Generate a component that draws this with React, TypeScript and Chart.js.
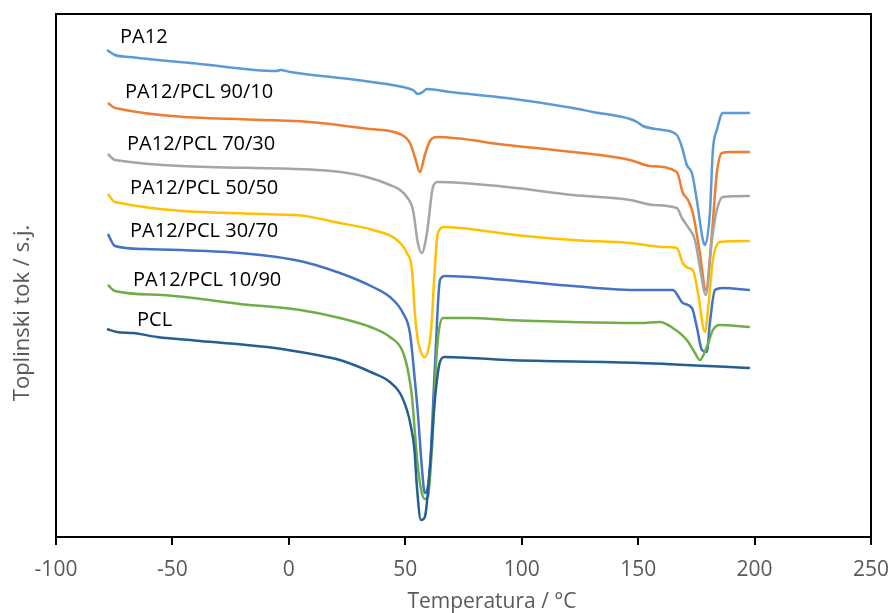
import React, { useEffect, useRef } from 'react';
import { Chart, registerables } from 'chart.js';

Chart.register(...registerables);

// Temperature (°C) and heat flow (arbitrary units) for each DSC curve
const seriesNames = ['PA12', 'PA12/PCL 90/10', 'PA12/PCL 70/30', 'PA12/PCL 50/50', 'PA12/PCL 30/70', 'PA12/PCL 10/90', 'PCL'];
const seriesColors = ['#5B9BD5', '#ED7D31', '#A5A5A5', '#FFC000', '#4472C4', '#70AD47', '#255E91'];

const pa12T = [-78.1, -74.7, -68.2, -38.2, -5.5, -3.5, 0.5, 29.2, 49.0, 53.3, 55.4, 57.5, 59.3, 69.2, 93.6, 122, 130.6, 146.5, 149.5, 152, 160.6, 166.6, 168.8, 170.9, 173.1, 175.2, 177.8, 178.7, 180.8, 182.1, 183.8, 186.4, 198];
const pa12V = [487, 482, 480, 473, 466, 467, 465, 457, 450, 447, 443, 445, 448, 445, 439, 429, 425, 418, 415, 411, 407, 402, 390, 372, 364, 337, 297, 292, 324, 387, 407, 424, 424];

const p9010T = [-77.7, -74.7, 2.6, 34.8, 47.7, 52.0, 54.1, 56.3, 58.4, 60.6, 63.6, 93.6, 122, 146.5, 155, 166.6, 169.2, 171.4, 173.5, 176.5, 179.1, 181.7, 183.8, 186, 189.4, 198];
const p9010V = [434, 429, 416, 408, 403, 394, 380, 365, 382, 396, 400, 392, 385, 377, 371, 365, 344, 337, 324, 284, 247, 304, 364, 384, 385, 385];

const p7030T = [-77.7, -74.7, 2.6, 43.4, 50.7, 53.3, 55.4, 57.1, 59.3, 61.9, 64.0, 93.6, 122, 146.5, 156.3, 166.6, 168.8, 171.4, 174.4, 176.5, 179.1, 181.7, 183.8, 186.4, 198];
const p7030V = [383, 377, 368, 352, 340, 327, 294, 284, 304, 350, 355, 350, 342, 337, 332, 329, 319, 310, 297, 270, 242, 297, 327, 340, 341];

const p5050T = [-77.7, -74.7, 2.6, 21.9, 36.1, 46.4, 50.7, 52.9, 54.1, 55.4, 58.4, 60.6, 61.4, 62.7, 64.0, 67.0, 77.8, 93.6, 122, 146.5, 160.6, 166.6, 169.2, 171.4, 173.5, 175.7, 178.7, 180.4, 182.1, 185.1, 198];
const p5050V = [343, 335, 322, 314, 307, 297, 284, 267, 224, 197, 180, 197, 217, 270, 304, 310, 308, 303, 297, 294, 290, 289, 274, 269, 267, 244, 205, 237, 277, 295, 296];

const p3070T = [-77.7, -74.7, -61.8, 2.6, 21.9, 36.1, 43.4, 49.0, 52.0, 54.1, 55.4, 57.1, 58.4, 60.6, 62.7, 64.9, 67.0, 93.6, 122, 150.8, 164.9, 169.2, 173.1, 175.2, 177.4, 179.5, 180.8, 183.0, 186.4, 198];
const p3070V = [303, 291, 288, 277, 264, 250, 240, 224, 204, 157, 124, 70, 44, 70, 170, 257, 261, 257, 251, 247, 247, 234, 229, 210, 187, 185, 214, 247, 249, 247];

const p1090T = [-77.7, -74.7, -54.5, -21.0, 4.8, 21.9, 36.1, 43.4, 48.6, 51.1, 52.9, 53.7, 55.4, 57.1, 58.4, 59.7, 61.4, 63.6, 66.2, 77.8, 93.6, 150.8, 159.3, 164.9, 170.9, 174.4, 176.5, 179.5, 182.1, 185.1, 198];
const p1090V = [252, 246, 242, 233, 227, 219, 209, 200, 187, 167, 140, 117, 70, 44, 38, 40, 87, 187, 219, 219, 217, 214, 215, 209, 197, 184, 177, 190, 207, 212, 210];

const pclT = [-78.1, -73.8, -66.9, -56.6, -38.2, -9.4, 12.1, 21.9, 36.1, 43.4, 47.7, 50.7, 52.3, 53.9, 55.0, 56.7, 58.4, 60.6, 62.7, 64.9, 67.0, 93.6, 150.8, 198];
const pclV = [208, 205, 204, 200, 196, 190, 182, 177, 164, 155, 144, 127, 112, 88, 50, 17, 20, 70, 137, 175, 180, 177, 174, 169];

// Curve label anchors (temperature, heat flow)
const labelT = [-72.5, -70.4, -69.5, -68.2, -68.2, -66.9, -65.2];
const labelV = [494, 439, 387, 343, 300, 251, 211];

const xMin = -100;
const xMax = 250;
const xStep = 50;
const yMin = 0;
const yMax = 523;

const xTitle = 'Temperatura / °C';
const yTitle = 'Toplinski tok / s.j.';

const seriesT = [pa12T, p9010T, p7030T, p5050T, p3070T, p1090T, pclT];
const seriesV = [pa12V, p9010V, p7030V, p5050V, p3070V, p1090V, pclV];

const FONT = '"Open Sans", "DejaVu Sans", sans-serif';

const overlayPlugin = {
  id: 'overlay',
  afterDraw(chart: any) {
    const { ctx, chartArea, scales } = chart;
    const { left, top, right, bottom } = chartArea;
    ctx.save();
    ctx.strokeStyle = '#000000';
    ctx.lineWidth = 2;
    ctx.strokeRect(left, top, right - left, bottom - top);

    ctx.font = `20px ${FONT}`;
    ctx.fillStyle = '#000000';
    ctx.textAlign = 'left';
    ctx.textBaseline = 'alphabetic';
    seriesNames.forEach((n, i) => {
      ctx.fillText(n, scales.x.getPixelForValue(labelT[i]), scales.y.getPixelForValue(labelV[i]));
    });

    ctx.font = `21px ${FONT}`;
    ctx.fillStyle = '#595959';
    ctx.textAlign = 'center';
    ctx.fillText(xTitle, 492, 608);

    ctx.font = `22px ${FONT}`;
    ctx.translate(29, 313);
    ctx.rotate(-Math.PI / 2);
    ctx.fillText(yTitle, 0, 0);
    ctx.restore();
  },
};

export default function App() {
  const ref = useRef<HTMLCanvasElement | null>(null);

  useEffect(() => {
    if (!ref.current) return;
    const datasets = seriesNames.map((name, i) => ({
      label: name,
      data: seriesT[i].map((t, j) => ({ x: t, y: seriesV[i][j] })),
      borderColor: seriesColors[i],
      backgroundColor: seriesColors[i],
      borderWidth: 2.5,
      pointRadius: 0,
      fill: false,
      cubicInterpolationMode: 'monotone' as const,
      order: seriesNames.length - i,
    }));

    const chart = new Chart(ref.current, {
      type: 'line',
      data: { datasets },
      options: {
        responsive: false,
        animation: false,
        devicePixelRatio: 1,
        layout: { padding: { left: 0, top: 14, right: 20, bottom: 0 } },
        plugins: {
          legend: { display: false },
          tooltip: { enabled: false },
          title: { display: false },
        },
        scales: {
          x: {
            type: 'linear',
            min: xMin,
            max: xMax,
            afterFit: (s: any) => {
              s.height = 76;
              s.paddingLeft = 0;
              s.paddingRight = 0;
            },
            ticks: {
              stepSize: xStep,
              color: '#595959',
              font: { family: FONT, size: 21 },
              padding: 12,
              maxRotation: 0,
            },
            grid: {
              drawOnChartArea: false,
              color: '#000000',
              lineWidth: 2,
              tickLength: 8,
            },
            border: { display: true, color: '#000000', width: 2 },
          },
          y: {
            type: 'linear',
            min: yMin,
            max: yMax,
            afterFit: (s: any) => {
              s.width = 56;
              s.paddingTop = 0;
              s.paddingBottom = 0;
            },
            ticks: { display: false },
            grid: { display: false },
            border: { display: false },
          },
        },
      },
      plugins: [overlayPlugin],
    });
    return () => chart.destroy();
  }, []);

  return (
    <div style={{ position: 'absolute', left: 0, top: 0, width: 891, height: 613, background: '#ffffff' }}>
      <canvas ref={ref} width={891} height={613} />
    </div>
  );
}
